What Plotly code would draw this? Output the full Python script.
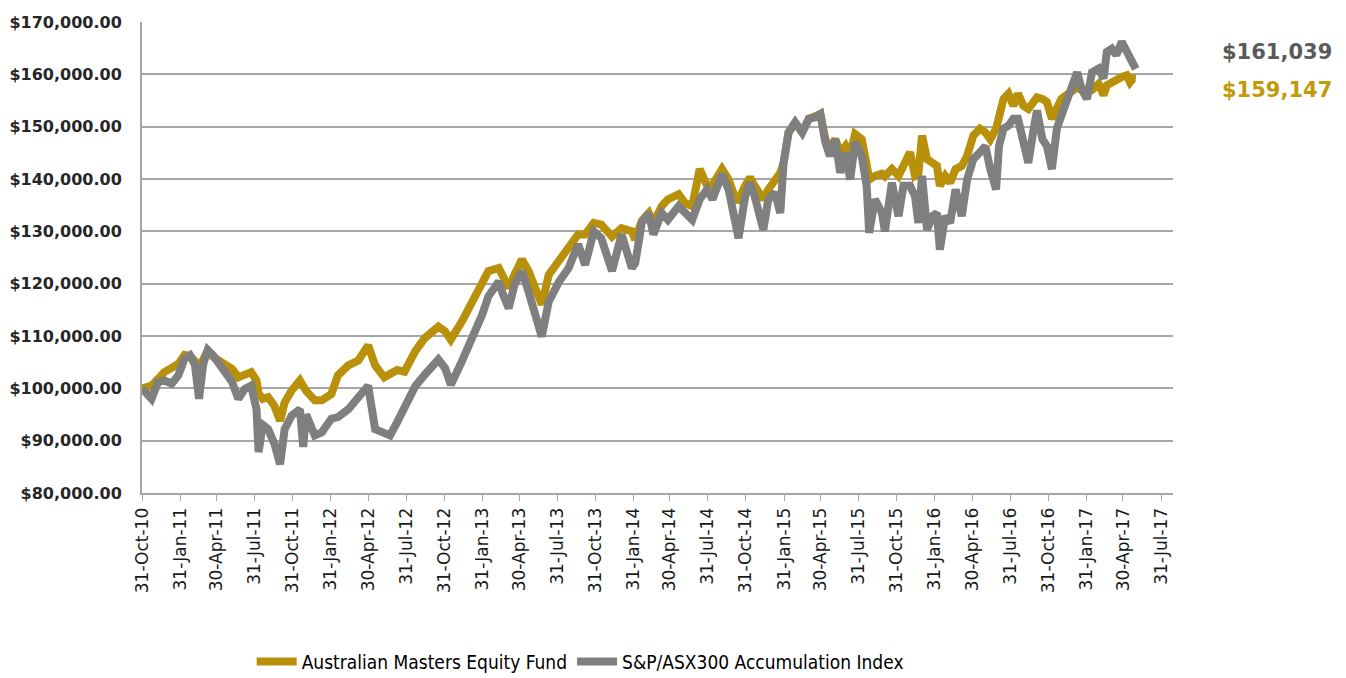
import plotly.graph_objects as go
import pandas as pd

dates = [
    "2010-10-31", "2010-11-23", "2010-12-09", "2010-12-24", "2011-01-11", "2011-01-27",
    "2011-02-11", "2011-02-24", "2011-03-08", "2011-03-18", "2011-03-28", "2011-04-08",
    "2011-04-21", "2011-05-04", "2011-05-20", "2011-06-06", "2011-06-21", "2011-07-07",
    "2011-07-22", "2011-08-04", "2011-08-09", "2011-08-19", "2011-09-01", "2011-09-16",
    "2011-09-30", "2011-10-11", "2011-10-28", "2011-11-17", "2011-11-25", "2011-12-02",
    "2011-12-23", "2012-01-09", "2012-02-01", "2012-02-17", "2012-03-13", "2012-04-06",
    "2012-04-30", "2012-05-17", "2012-06-08", "2012-06-22", "2012-07-09", "2012-07-27",
    "2012-08-22", "2012-09-14", "2012-10-17", "2012-11-02", "2012-11-16", "2012-12-13",
    "2013-01-07", "2013-01-31", "2013-02-15", "2013-03-12", "2013-03-22", "2013-04-05",
    "2013-04-19", "2013-05-07", "2013-05-23", "2013-06-07", "2013-06-24", "2013-07-11",
    "2013-08-05", "2013-08-28", "2013-09-20", "2013-10-07", "2013-10-28", "2013-11-15",
    "2013-12-11", "2014-01-03", "2014-01-28", "2014-02-05", "2014-02-21", "2014-03-10",
    "2014-03-21", "2014-04-10", "2014-04-25", "2014-05-21", "2014-06-06", "2014-06-23",
    "2014-07-11", "2014-07-29", "2014-08-11", "2014-09-03", "2014-09-19", "2014-10-06",
    "2014-10-13", "2014-10-29", "2014-11-10", "2014-11-21", "2014-12-12", "2014-12-24",
    "2015-01-09", "2015-01-22", "2015-01-30", "2015-02-11", "2015-02-27", "2015-03-16",
    "2015-04-01", "2015-04-17", "2015-04-29", "2015-05-11", "2015-05-22", "2015-06-04",
    "2015-06-16", "2015-06-29", "2015-07-10", "2015-07-22", "2015-08-07", "2015-08-19",
    "2015-08-25", "2015-09-08", "2015-09-25", "2015-10-02", "2015-10-19", "2015-11-04",
    "2015-11-16", "2015-12-02", "2015-12-14", "2015-12-22", "2015-12-31", "2016-01-12",
    "2016-01-25", "2016-02-05", "2016-02-12", "2016-02-25", "2016-03-08", "2016-03-21",
    "2016-04-05", "2016-04-18", "2016-05-03", "2016-05-19", "2016-06-01", "2016-06-13",
    "2016-06-27", "2016-07-04", "2016-07-15", "2016-07-27", "2016-08-08", "2016-08-19",
    "2016-09-01", "2016-09-13", "2016-09-26", "2016-10-04", "2016-10-17", "2016-10-28",
    "2016-11-09", "2016-11-21", "2016-12-02", "2016-12-19", "2016-12-30", "2017-01-09",
    "2017-01-20", "2017-02-02", "2017-02-14", "2017-03-02", "2017-03-14", "2017-03-22",
    "2017-04-03", "2017-04-14", "2017-04-27", "2017-05-09", "2017-05-17", "2017-05-24",
    "2017-05-31",
]

# values in $ thousands
fund_k = [
    100.0, 100.5, 101.8, 103.1, 103.9, 104.7,
    106.4, 106.2, 105.2, 104.0, 105.5, 107.2,
    106.0, 105.3, 104.4, 103.7, 102.1, 102.8,
    103.1, 101.5, 99.0, 98.0, 98.3, 96.7,
    93.8, 97.3, 99.6, 101.5, 100.5, 99.5,
    97.7, 97.7, 98.9, 102.5, 104.4, 105.3,
    108.2, 104.4, 102.1, 102.7, 103.5, 103.2,
    107.1, 109.6, 111.8, 110.9, 109.3, 112.8,
    116.3, 119.8, 122.4, 123.0, 121.5, 119.2,
    121.7, 124.6, 122.4, 119.2, 116.0, 121.7,
    124.3, 126.8, 129.4, 129.4, 131.6, 131.3,
    129.0, 130.6, 130.0, 128.4, 132.0, 133.5,
    131.5, 134.8, 136.1, 137.1, 135.4, 134.8,
    141.9, 138.7, 138.9, 141.9, 139.9, 136.1,
    136.0, 138.7, 140.3, 138.7, 136.1, 138.0,
    139.9, 141.2, 143.1, 148.9, 150.8, 148.9,
    151.5, 151.8, 152.4, 147.6, 145.7, 147.6,
    145.0, 146.3, 144.5, 148.6, 147.6, 142.8,
    139.9, 140.6, 141.0, 140.5, 141.9, 140.6,
    142.5, 145.1, 140.6, 141.0, 148.3, 143.8,
    143.1, 142.5, 138.7, 140.6, 139.3, 141.9,
    142.5, 144.4, 148.3, 149.6, 148.9, 147.6,
    149.6, 152.1, 155.3, 156.3, 154.0, 156.3,
    154.0, 153.4, 154.7, 155.6, 155.3, 154.7,
    151.5, 154.0, 155.3, 156.3, 157.2, 157.5,
    157.0, 157.2, 157.0, 158.2, 156.0, 157.9,
    158.5, 159.2, 159.5, 159.8, 158.5, 159.2,
    159.147,
]

index_k = [
    100.0, 98.0, 101.2, 101.5, 100.9, 102.5,
    105.7, 106.3, 104.5, 98.0, 104.6, 107.3,
    106.3, 104.8, 102.8, 101.2, 98.0, 99.9,
    100.5, 96.0, 87.8, 93.0, 92.2, 89.5,
    85.5, 92.2, 94.8, 96.0, 88.8, 95.0,
    91.0, 91.6, 94.2, 94.5, 96.0, 98.0,
    100.5, 92.2, 91.6, 91.0, 93.5, 96.5,
    100.4, 102.6, 105.5, 103.9, 100.7, 105.2,
    109.6, 114.1, 117.6, 120.4, 118.0, 115.3,
    119.8, 122.4, 118.5, 114.1, 109.9, 116.6,
    120.4, 123.0, 127.5, 123.6, 130.0, 128.7,
    122.4, 129.4, 123.0, 123.9, 131.6, 133.5,
    129.4, 133.5, 132.2, 134.8, 133.5, 132.2,
    136.1, 138.0, 136.1, 140.9, 138.0, 132.2,
    128.7, 136.7, 139.3, 136.7, 130.3, 136.1,
    137.4, 133.5, 143.1, 148.9, 150.8, 148.9,
    151.5, 151.8, 152.4, 147.0, 144.4, 147.6,
    141.2, 145.0, 139.9, 147.0, 144.4, 138.7,
    129.7, 136.1, 133.5, 130.0, 139.3, 132.9,
    138.7, 138.7, 136.7, 131.6, 140.6, 130.3,
    132.9, 133.5, 126.5, 132.9, 131.6, 138.0,
    132.9, 139.9, 143.8, 145.1, 146.3, 141.9,
    138.0, 146.3, 149.6, 150.2, 151.5, 151.5,
    147.0, 143.1, 149.6, 153.1, 147.6, 146.3,
    141.9, 149.6, 152.1, 156.3, 158.5, 160.4,
    157.2, 155.3, 160.4, 161.1, 159.2, 164.3,
    164.9, 163.7, 166.2, 164.3, 163.0, 161.7,
    161.039,
]

series_names = ["Australian Masters Equity Fund", "S&P/ASX300 Accumulation Index"]
series_colors = ["#B8900A", "#7E7F7E"]
end_labels = ["$161,039", "$159,147"]
end_label_colors = ["#5A5A5A", "#C29A08"]

tick_dates = [
    "2010-10-31", "2011-01-31", "2011-04-30", "2011-07-31", "2011-10-31",
    "2012-01-31", "2012-04-30", "2012-07-31", "2012-10-31",
    "2013-01-31", "2013-04-30", "2013-07-31", "2013-10-31",
    "2014-01-31", "2014-04-30", "2014-07-31", "2014-10-31",
    "2015-01-31", "2015-04-30", "2015-07-31", "2015-10-31",
    "2016-01-31", "2016-04-30", "2016-07-31", "2016-10-31",
    "2017-01-31", "2017-04-30", "2017-07-31",
]
tick_text = [pd.Timestamp(d).strftime("%d-%b-%y") for d in tick_dates]

y_ticks = [80000, 90000, 100000, 110000, 120000, 130000, 140000, 150000, 160000, 170000]

fund = [v * 1000 for v in fund_k]
index = [v * 1000 for v in index_k]

fig = go.Figure()
fig.add_trace(go.Scatter(x=dates, y=fund, mode="lines", name=series_names[0],
                         line=dict(color=series_colors[0], width=8)))
fig.add_trace(go.Scatter(x=dates, y=index, mode="lines", name=series_names[1],
                         line=dict(color=series_colors[1], width=8)))

fig.update_layout(
    width=1338, height=670,
    margin=dict(l=134, r=173, t=14, b=185, autoexpand=False),
    paper_bgcolor="white", plot_bgcolor="white",
    showlegend=True,
    legend=dict(orientation="h", x=0.425, xanchor="center",
                y=-0.358, yanchor="middle",
                font=dict(family="DejaVu Sans Condensed, DejaVu Sans", size=19, color="#000000"),
                itemwidth=40, tracegroupgap=0),
    font=dict(family="DejaVu Sans"),
)

fig.update_xaxes(
    type="date",
    range=["2010-10-31", "2017-08-29"],
    tickmode="array", tickvals=tick_dates, ticktext=tick_text,
    tickangle=-90,
    tickfont=dict(family="DejaVu Sans", size=17, color="#1A1A1A"),
    ticks="outside", ticklen=6, tickcolor="#A6A6A6", tickwidth=1,
    showgrid=False,
    showline=True, linecolor="#A6A6A6", linewidth=2,
    zeroline=False,
)
fig.update_yaxes(
    range=[80000, 170000],
    tickmode="array", tickvals=y_ticks,
    tickformat="$,.2f",
    tickfont=dict(family="DejaVu Sans", size=16, color="#262626", weight="bold"),
    showgrid=True, gridcolor="#A6A6A6", gridwidth=1.5,
    showline=True, linecolor="#A6A6A6", linewidth=2,
    ticklabelstandoff=15,
    zeroline=False,
)

fig.add_annotation(x=1.101, y=0.936, xref="paper", yref="paper", text=end_labels[0],
                   xanchor="center", yanchor="middle",
                   showarrow=False, font=dict(family="DejaVu Sans", size=21,
                                              color=end_label_colors[0], weight="bold"))
fig.add_annotation(x=1.101, y=0.856, xref="paper", yref="paper", text=end_labels[1],
                   xanchor="center", yanchor="middle",
                   showarrow=False, font=dict(family="DejaVu Sans", size=21,
                                              color=end_label_colors[1], weight="bold"))

fig.write_html("out.html")
